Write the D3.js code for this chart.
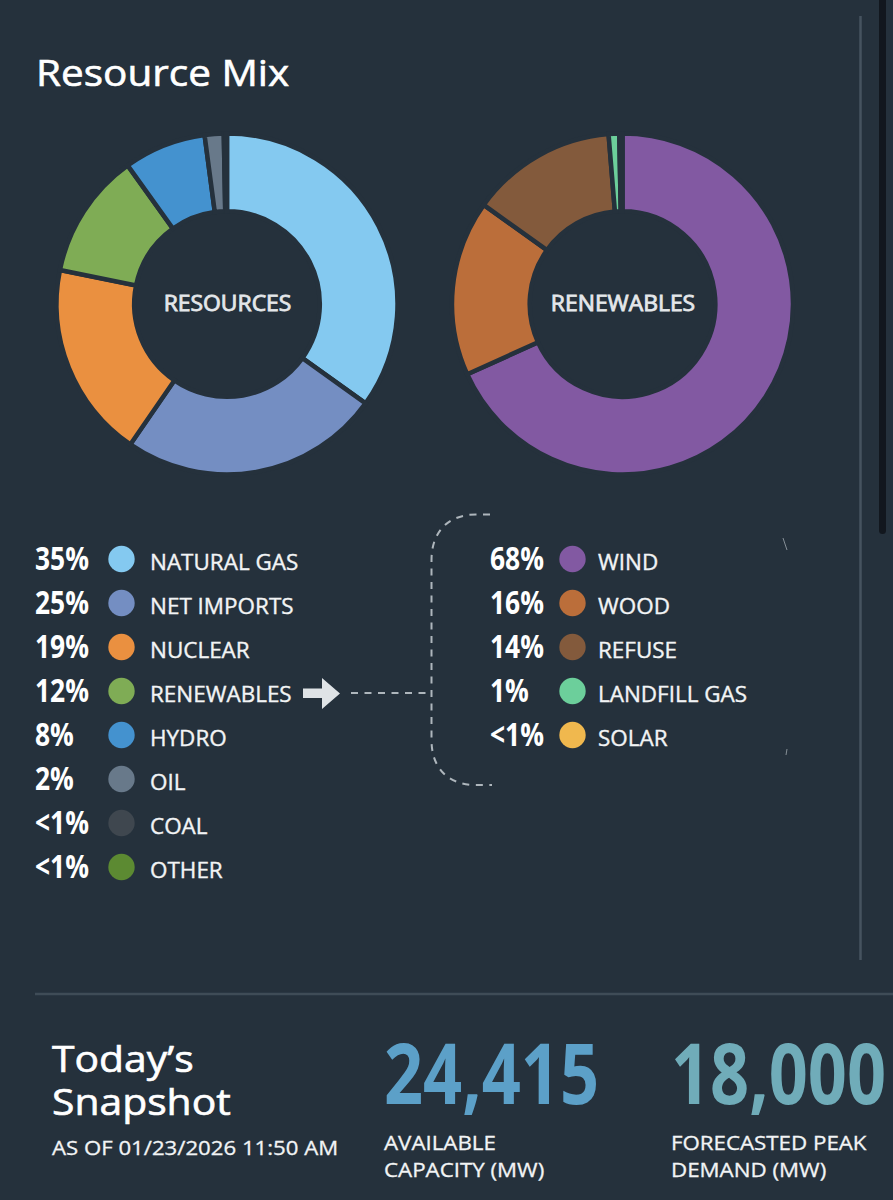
<!DOCTYPE html>
<html><head><meta charset="utf-8">
<script src="https://cdn.jsdelivr.net/npm/d3@7"></script>
<style>
html,body{margin:0;padding:0;background:#25313c;overflow:hidden}
svg{display:block}
text{font-family:"Open Sans",sans-serif}
</style></head><body>
<svg id="c" width="893" height="1200"></svg>
<script>
const resourceNames=["NATURAL GAS","NET IMPORTS","NUCLEAR","RENEWABLES","HYDRO","OIL","COAL","OTHER"];
const resourceShares=[34.9,24.7,18.6,11.9,7.8,1.8,0.2,0.1];
const resourceLabels=["35%","25%","19%","12%","8%","2%","<1%","<1%"];
const resourceColors=["#84c9f0","#748ec2","#ea9040","#7fac55","#4492cf","#68798a","#3f474f","#5c8a32"];
const renewableNames=["WIND","WOOD","REFUSE","LANDFILL GAS","SOLAR"];
const renewableShares=[68.1,16.6,13.8,1.0,0.3];
const renewableLabels=["68%","16%","14%","1%","<1%"];
const renewableColors=["#8259a2","#bb6e3a","#835a3c","#6ccf9b","#f0b84e"];
const bg="#25313c";
const svg=d3.select("#c");
svg.append("rect").attr("width",893).attr("height",1200).attr("fill",bg);

// page chrome
svg.append("line").attr("x1",860.5).attr("x2",860.5).attr("y1",16).attr("y2",960).attr("stroke","#46535f").attr("stroke-width",2.5);
svg.append("rect").attr("x",879).attr("y",-10).attr("width",7).attr("height",544).attr("rx",3.5).attr("fill","#12171e");
svg.append("line").attr("x1",35).attr("x2",893).attr("y1",994).attr("y2",994).attr("stroke","#3f4c57").attr("stroke-width",2.5);

// horizontally stretched / condensed text helper; a thin stroke thickens regular weight
function label(x,y,size,weight,sx,fill,txt,anchor,thick){
  return svg.append("text").attr("transform",`translate(${x},${y}) scale(${sx},1)`)
    .attr("font-size",size).attr("font-weight",weight).attr("fill",fill)
    .attr("stroke",thick?fill:"none").attr("stroke-width",thick||0)
    .attr("text-anchor",anchor||"start").text(txt);
}
label(36,86,37,400,1.095,"#fff","Resource Mix","start",0.6);

function donut(cx,cy,values,colors,name){
  const g=svg.append("g").attr("transform",`translate(${cx},${cy})`);
  const pie=d3.pie().sort(null)(values);
  const arc=d3.arc().innerRadius(92.8).outerRadius(170.5);
  g.selectAll("path").data(pie).join("path").attr("d",arc)
    .attr("fill",(d,i)=>colors[i]).attr("stroke",bg).attr("stroke-width",4.5);
  label(cx+0.5,cy+7,21,400,1.09,"#e4e7ea",name,"middle",0.8);
}
donut(227,304,resourceShares,resourceColors,"RESOURCES");
donut(622.5,304,renewableShares,renewableColors,"RENEWABLES");

function legend(xPct,xDot,xLab,names,labels,colors){
  const y=d3.scalePoint().domain(d3.range(8)).range([0,308]);
  names.forEach((n,i)=>{
    const c=559+y(i);
    label(xPct,c+11,32,700,0.825,"#fff",labels[i]);
    svg.append("circle").attr("cx",xDot).attr("cy",c).attr("r",13.2).attr("fill",colors[i]);
    label(xLab,c+11,21,400,1.07,"#f2f4f5",n,"start",0.35);
  });
}
legend(35,121.5,150,resourceNames,resourceLabels,resourceColors);
legend(490,572.5,598,renewableNames,renewableLabels,renewableColors);

// arrow
svg.append("path").attr("d","M303,688.5H322V678L340,693.5L322,709V698H303Z").attr("fill","#dfe3e6");
// dashed connector
const dashC="#aeb6bc", dashW=2, dashA="7 6.5";
svg.append("path").attr("d","M351,693H428").attr("fill","none").attr("stroke",dashC).attr("stroke-width",dashW).attr("stroke-dasharray",dashA);
svg.append("path").attr("d","M490,514.5H476C448,514.5 431.5,532 431.5,560V740C431.5,768 448,785 476,785H492")
  .attr("fill","none").attr("stroke",dashC).attr("stroke-width",dashW).attr("stroke-dasharray",dashA);
svg.append("path").attr("d","M783,538L787,550M787,749L786,755").attr("fill","none").attr("stroke",dashC).attr("stroke-width",1).attr("opacity",0.7);

// snapshot
label(52,1072,36,400,1.135,"#fff","Today\u2019s","start",0.6);
label(52,1115,36,400,1.135,"#fff","Snapshot","start",0.6);
label(52,1155,20,400,1.11,"#f2f4f5","AS OF 01/23/2026 11:50 AM","start",0.3);
label(384,1104,85,700,0.805,"#5ca0c8","24,415");
label(671,1104,85,700,0.805,"#70acb9","18,000");
[[384,"AVAILABLE","CAPACITY (MW)"],[671,"FORECASTED PEAK","DEMAND (MW)"]].forEach(([x,a,b])=>{
  label(x,1150,20,400,1.115,"#f2f4f5",a,"start",0.3);
  label(x,1177,20,400,1.115,"#f2f4f5",b,"start",0.3);
});
</script></body></html>
